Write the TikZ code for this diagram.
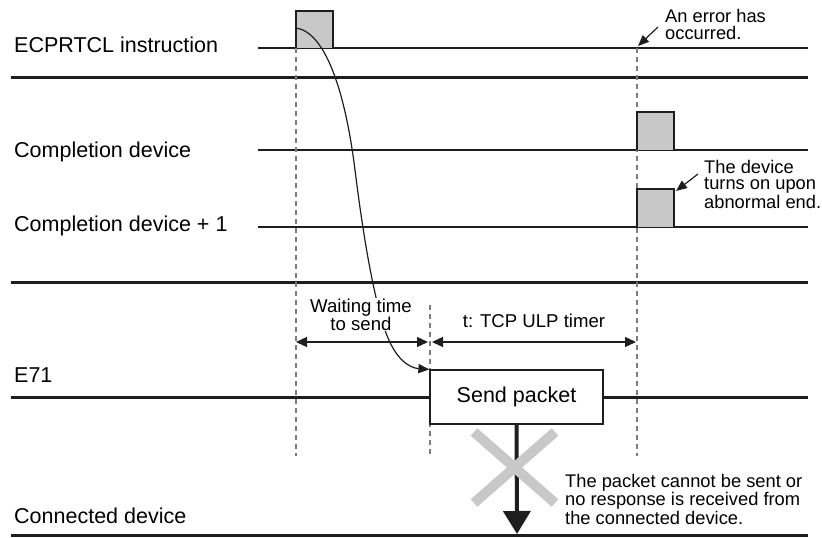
\documentclass[tikz,border=0pt]{standalone}
\usepackage{fontspec}
\setmainfont{Liberation Sans}
\usetikzlibrary{arrows.meta}
\definecolor{pulsegray}{RGB}{200,200,200}
\definecolor{dashgray}{RGB}{125,125,125}
\definecolor{crossgray}{RGB}{200,200,200}
\definecolor{ink}{RGB}{30,30,30}
\begin{document}
\begin{tikzpicture}[x=1pt,y=-1pt,
  heavy/.style={line width=3pt, ink},
  signal/.style={line width=1.3pt, ink},
  guide/.style={line width=1.2pt, dashgray, dash pattern=on 5pt off 4pt},
  pulse/.style={line width=1.3pt, ink, fill=pulsegray},
  lab/.style={anchor=base west, inner sep=0pt, font=\fontsize{21.5}{24}\selectfont},
  note/.style={anchor=base west, inner sep=0pt, align=left, font=\fontsize{18.3}{16.7}\selectfont},
  dimtext/.style={anchor=base, inner sep=1pt, align=center, fill=white, font=\fontsize{18.6}{18}\selectfont},
  dim/.style={line width=1.3pt, ink, {Triangle[length=11pt,width=10pt]}-{Triangle[length=11pt,width=10pt]}},
  pointer/.style={line width=1.2pt, ink, -{Triangle[length=11pt,width=9pt]}},
  packetbox/.style={draw=ink, line width=1.2pt, fill=white, minimum width=173pt, minimum height=54pt, inner sep=0pt, font=\fontsize{21.5}{24}\selectfont},
  bigarrow/.style={line width=4pt, ink, -{Triangle[length=23pt,width=27pt]}},
  cross/.style={line width=10pt, crossgray}
]
\useasboundingbox (0,0) rectangle (822,538);

% separators
\draw[heavy] (11,77) -- (808,77);
\draw[heavy] (11,282) -- (808,282);
\draw[heavy] (11,397) -- (808,397);
\draw[heavy] (11,535) -- (808,535);

% signal lines
\draw[signal] (258,48) -- (808,48);
\draw[signal] (258,150) -- (808,150);
\draw[signal] (258,227) -- (808,227);

% dashed guides
\draw[guide] (296,48) -- (296,456);
\draw[guide] (637,48) -- (637,456);
\draw[guide] (430,305) -- (430,456);

% pulses
\draw[pulse] (296,48) -- (296,11) -- (333,11) -- (333,48);
\draw[pulse] (637,150) -- (637,112) -- (674,112) -- (674,150);
\draw[pulse] (637,227) -- (637,189) -- (674,189) -- (674,227);

% labels
\node[lab] (lecp) at (14,52) {ECPRTCL instruction};
\node[lab] (lcd) at (14,157) {Completion device};
\node[lab] (lcd1) at (14,231) {Completion device + 1};
\node[lab] (le71) at (14,382) {E71};
\node[lab] (lcon) at (14,523) {Connected device};

% packet box
\node[packetbox] (box) at (516.5,397) {Send packet};

% curve from instruction to send packet
\coordinate (cstart) at (296,28);
\draw[pointer] (cstart) .. controls (325,32) and (345,90) .. (355,170)
  .. controls (365,250) and (375,300) .. (385,330)
  .. controls (395,360) and (410,368) .. (box.north west);

% dimension texts
\node[dimtext] (wait) at (361,330) {Waiting time\\to send};
\node[anchor=base, inner sep=0pt, font=\fontsize{18.6}{18}\selectfont] (tcp) at (534,327) {t: TCP ULP timer};

% dimension arrows
\coordinate (d1a) at (296,342);
\coordinate (d1b) at (428,342);
\coordinate (d2a) at (432,342);
\coordinate (d2b) at (636,342);
\draw[dim] (d1a) -- (d1b);
\draw[dim] (d2a) -- (d2b);

% notes
\node[note] (err) at (665,39) {An error has\\occurred.};
\coordinate (errfrom) at (658,27);
\coordinate (errto) at (638,46);
\draw[pointer] (errfrom) -- (errto);

\node[note] (dev) at (704,208) {The device\\turns on upon\\abnormal end.};
\coordinate (devfrom) at (698,174);
\coordinate (devto) at (676,191);
\draw[pointer] (devfrom) -- (devto);

\node[note] (pk) at (565,524) {The packet cannot be sent or\\no response is received from\\the connected device.};

% big arrow and cross
\coordinate (arrtip) at (517,534);
\draw[bigarrow] (box.south) -- (arrtip);
\draw[cross] (474,432) -- (555,503);
\draw[cross] (555,432) -- (474,503);
\end{tikzpicture}
\end{document}
